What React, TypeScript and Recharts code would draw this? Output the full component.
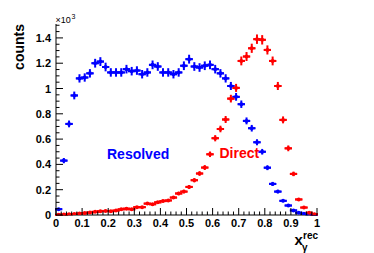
import React from "react";
import { ScatterChart, Scatter, XAxis, YAxis, ErrorBar } from "recharts";

// bin centres of x_gamma^rec (bin width 0.02)
const binCenters = [
  0.01, 0.03, 0.05, 0.07, 0.09, 0.11, 0.13, 0.15, 0.17, 0.19,
  0.21, 0.23, 0.25, 0.27, 0.29, 0.31, 0.33, 0.35, 0.37, 0.39,
  0.41, 0.43, 0.45, 0.47, 0.49, 0.51, 0.53, 0.55, 0.57, 0.59,
  0.61, 0.63, 0.65, 0.67, 0.69, 0.71, 0.73, 0.75, 0.77, 0.79,
  0.81, 0.83, 0.85, 0.87, 0.89, 0.91, 0.93, 0.95, 0.97, 0.99,
];

// counts in units of 10^3
const resolvedCounts = [
  0.046, 0.43, 0.72, 0.945, 1.08, 1.087, 1.12, 1.2, 1.213, 1.17,
  1.127, 1.127, 1.127, 1.153, 1.137, 1.142, 1.113, 1.127, 1.187, 1.174,
  1.127, 1.127, 1.113, 1.127, 1.18, 1.232, 1.174, 1.166, 1.18, 1.187,
  1.153, 1.12, 1.08, 1.02, 0.934, 0.876, 0.744, 0.686, 0.575, 0.5,
  0.374, 0.246, 0.185, 0.112, 0.075, 0.036, 0.018, 0.01, 0.005, 0.002,
];
const directCounts = [
  0.002, 0.003, 0.005, 0.008, 0.012, 0.015, 0.02, 0.025, 0.03, 0.032,
  0.03, 0.035, 0.045, 0.05, 0.045, 0.062, 0.062, 0.09, 0.085, 0.1,
  0.11, 0.115, 0.138, 0.17, 0.185, 0.222, 0.275, 0.328, 0.375, 0.48,
  0.607, 0.68, 0.755, 0.92, 1.005, 1.218, 1.253, 1.318, 1.39, 1.385,
  1.305, 1.218, 1.02, 0.752, 0.527, 0.325, 0.123, 0.059, 0.018, 0.005,
];

const xMajor = [0, 0.1, 0.2, 0.3, 0.4, 0.5, 0.6, 0.7, 0.8, 0.9, 1];
const xLabels = ["0", "0.1", "0.2", "0.3", "0.4", "0.5", "0.6", "0.7", "0.8", "0.9", "1"];
const yMajor = [0, 0.2, 0.4, 0.6, 0.8, 1, 1.2, 1.4];
const yLabels = ["0", "0.2", "0.4", "0.6", "0.8", "1", "1.2", "1.4"];

const xTicks = Array.from({ length: 51 }, (_, i) => +(i * 0.02).toFixed(2));
const yTicks = Array.from({ length: 31 }, (_, i) => +(i * 0.05).toFixed(2));

const BLUE = "#0000ff";
const RED = "#ff0000";
const FONT = "'Liberation Sans', Arial, Helvetica, sans-serif";

// poisson errors from counts (x1000 events)
const build = (vals: number[]) =>
  binCenters.map((x, i) => ({ x, y: vals[i], ex: 0.01, ey: Math.sqrt(vals[i] * 1000) / 1000 }));

const resolved = build(resolvedCounts);
const direct = build(directCounts);

const near = (a: number, list: number[]) => list.findIndex((v) => Math.abs(v - a) < 1e-6);

const BottomTick = (p: any) => {
  const idx = near(p.payload.value, xMajor);
  const len = idx >= 0 ? 7 : 3.5;
  return (
    <g>
      <line x1={p.x} x2={p.x} y1={p.y} y2={p.y - len} stroke="#000" />
      {idx >= 0 && (
        <text x={p.x} y={p.y + 11.5} textAnchor="middle" fontSize={11} fontWeight="bold" fontFamily={FONT} fill="#000">
          {xLabels[idx]}
        </text>
      )}
    </g>
  );
};
const TopTick = (p: any) => {
  const len = near(p.payload.value, xMajor) >= 0 ? 7 : 3.5;
  return <line x1={p.x} x2={p.x} y1={p.y} y2={p.y + len} stroke="#000" />;
};
const LeftTick = (p: any) => {
  const idx = near(p.payload.value, yMajor);
  const len = idx >= 0 ? 7 : 3.5;
  return (
    <g>
      <line x1={p.x} x2={p.x + len} y1={p.y} y2={p.y} stroke="#000" />
      {idx >= 0 && (
        <text x={p.x - 5} y={p.y + 4} textAnchor="end" fontSize={11} fontWeight="bold" fontFamily={FONT} fill="#000">
          {yLabels[idx]}
        </text>
      )}
    </g>
  );
};
const RightTick = (p: any) => {
  const len = near(p.payload.value, yMajor) >= 0 ? 7 : 3.5;
  return <line x1={p.x} x2={p.x - len} y1={p.y} y2={p.y} stroke="#000" />;
};

const dot = (color: string) => (p: any) => <circle cx={p.cx} cy={p.cy} r={2} fill={color} />;

export default function App() {
  return (
    <div style={{ position: "absolute", left: 0, top: 0, width: 374, height: 253, background: "#fff" }}>
      <ScatterChart width={374} height={253} margin={{ top: 24, right: 57, bottom: 0, left: 0 }}>
        <XAxis xAxisId="b" type="number" dataKey="x" domain={[0, 1]} allowDataOverflow ticks={xTicks} interval={0}
          height={38} tickSize={0} tickMargin={0} tickLine={false} tick={BottomTick} stroke="#000" />
        <XAxis xAxisId="t" orientation="top" type="number" domain={[0, 1]} allowDataOverflow ticks={xTicks} interval={0}
          height={0} tickSize={0} tickMargin={0} tickLine={false} tick={TopTick} stroke="#000" />
        <YAxis yAxisId="l" type="number" dataKey="y" domain={[0, 1.51]} allowDataOverflow ticks={yTicks} interval={0}
          width={56} tickSize={0} tickMargin={0} tickLine={false} tick={LeftTick} stroke="#000" />
        <YAxis yAxisId="r" orientation="right" type="number" domain={[0, 1.51]} allowDataOverflow ticks={yTicks} interval={0}
          width={0} tickSize={0} tickMargin={0} tickLine={false} tick={RightTick} stroke="#000" />
        <Scatter data={resolved} xAxisId="b" yAxisId="l" fill={BLUE} shape={dot(BLUE)} isAnimationActive={false}>
          <ErrorBar dataKey="ey" direction="y" width={0} stroke={BLUE} strokeWidth={2} isAnimationActive={false} />
          <ErrorBar dataKey="ex" direction="x" width={0} stroke={BLUE} strokeWidth={2} strokeLinecap="square" isAnimationActive={false} />
        </Scatter>
        <Scatter data={direct} xAxisId="b" yAxisId="l" fill={RED} shape={dot(RED)} isAnimationActive={false}>
          <ErrorBar dataKey="ey" direction="y" width={0} stroke={RED} strokeWidth={2} isAnimationActive={false} />
          <ErrorBar dataKey="ex" direction="x" width={0} stroke={RED} strokeWidth={2} strokeLinecap="square" isAnimationActive={false} />
        </Scatter>
      </ScatterChart>
      <svg width={374} height={253} style={{ position: "absolute", left: 0, top: 0, pointerEvents: "none" }} fontFamily={FONT}>
        <text transform="translate(23.5,24) rotate(-90)" textAnchor="end" fontSize={14} fontWeight="bold">counts</text>
        <text x={55.5} y={23} fontSize={9}>×10</text>
        <text x={71.5} y={18.5} fontSize={7}>3</text>
        <text x={107} y={158.5} fontSize={14} fontWeight="bold" fill={BLUE}>Resolved</text>
        <text x={219.5} y={158.3} fontSize={14} fontWeight="bold" fill={RED}>Direct</text>
        <text x={294.5} y={245} fontSize={15} fontWeight="bold">x</text>
        <text x={302} y={250.5} fontSize={10} fontWeight="bold">γ</text>
        <text x={303} y={239} fontSize={10} fontWeight="bold">rec</text>
      </svg>
    </div>
  );
}
